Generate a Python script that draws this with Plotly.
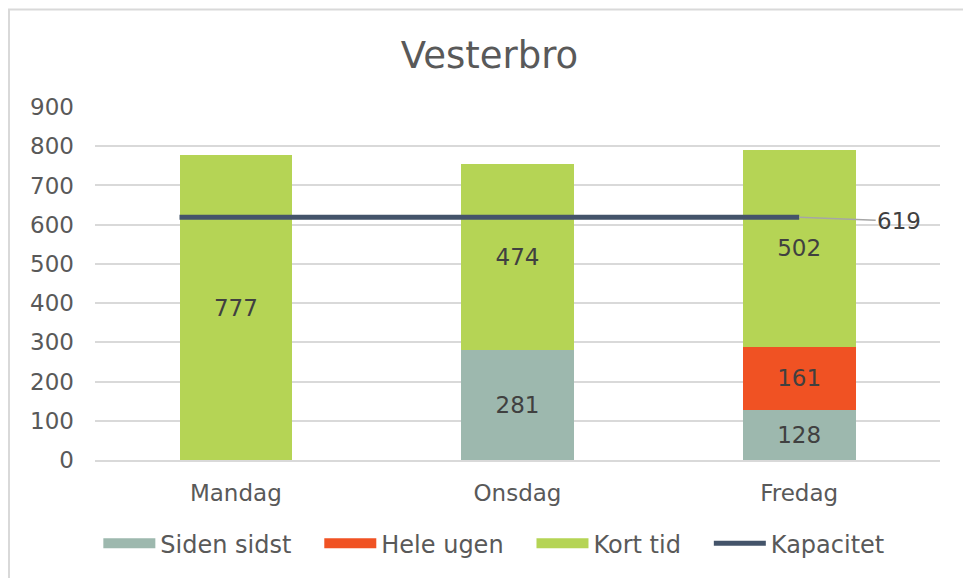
import plotly.graph_objects as go

categories = ["Mandag", "Onsdag", "Fredag"]
siden_sidst = [0, 281, 128]
hele_ugen = [0, 0, 161]
kort_tid = [777, 474, 502]
kapacitet_x = [-0.2, 2]
kapacitet = [619, 619]
y_ticks = [0, 100, 200, 300, 400, 500, 600, 700, 800, 900]

x_pos = list(range(len(categories)))
txt_col = "#404040"
axis_col = "#595959"
font = "DejaVu Sans, Verdana, sans-serif"
pad = "\u00a0" * 3

def labels(vals):
    return [str(v) if v else "" for v in vals]

series = [("Siden sidst", siden_sidst, "#9DB8AE"),
          ("Hele ugen", hele_ugen, "#F05223"),
          ("Kort tid", kort_tid, "#B5D455")]

fig = go.Figure()
for name, vals, col in series:
    fig.add_trace(go.Bar(x=x_pos, y=vals, name=name, marker=dict(color=col, line_width=0),
                         width=0.4, text=labels(vals), textposition="inside",
                         insidetextanchor="middle", textangle=0, showlegend=False,
                         textfont=dict(color=txt_col, size=23, family=font)))

fig.add_trace(go.Scatter(x=kapacitet_x, y=kapacitet, name="Kapacitet", mode="lines",
                         line=dict(color="#44546A", width=5), showlegend=False))

# legend entries (wide rectangles as in the reference)
for name, vals, col in series:
    fig.add_trace(go.Scatter(x=[None], y=[None], name=name + pad, mode="lines",
                             line=dict(color=col, width=13)))
fig.add_trace(go.Scatter(x=[None], y=[None], name="Kapacitet", mode="lines",
                         line=dict(color="#44546A", width=5)))

fig.add_annotation(x=kapacitet_x[-1], y=kapacitet[-1], text=str(kapacitet[-1]),
                   showarrow=True, arrowhead=0, arrowwidth=1.5, arrowcolor="#A6A6A6",
                   ax=100, ay=4, xanchor="center",
                   font=dict(size=23, color=txt_col, family=font))

fig.add_shape(type="rect", xref="paper", yref="paper", x0=-0.1018, x1=1.0343,
              y0=-0.45, y1=1.276, line=dict(color="#D9D9D9", width=2), layer="below")

fig.update_layout(
    width=963, height=570,
    margin=dict(l=87, r=31, t=99, b=116),
    paper_bgcolor="white", plot_bgcolor="white",
    barmode="stack",
    title=dict(text="Vesterbro", x=0.5, xanchor="center", y=0.917, yanchor="middle",
               font=dict(size=37, color=axis_col, family=font)),
    font=dict(family=font, color=axis_col),
    xaxis=dict(range=[-0.5, 2.5], tickvals=x_pos, ticktext=categories,
               showgrid=False, zeroline=False, showline=True, linecolor="#D9D9D9",
               linewidth=1.5, ticks="", tickfont=dict(size=23, color=axis_col),
               ticklabelstandoff=12),
    yaxis=dict(range=[0, 900], tickvals=y_ticks, showgrid=True, gridcolor="#D9D9D9",
               gridwidth=1.5, zeroline=False, showline=False, ticks="",
               tickfont=dict(size=23, color=axis_col), ticklabelstandoff=20),
    legend=dict(orientation="h", x=0.472, xanchor="center", y=-0.237, yanchor="middle",
                font=dict(size=24, color=axis_col), traceorder="normal",
                itemwidth=52),
    showlegend=True,
)

fig.write_html("out.html")
